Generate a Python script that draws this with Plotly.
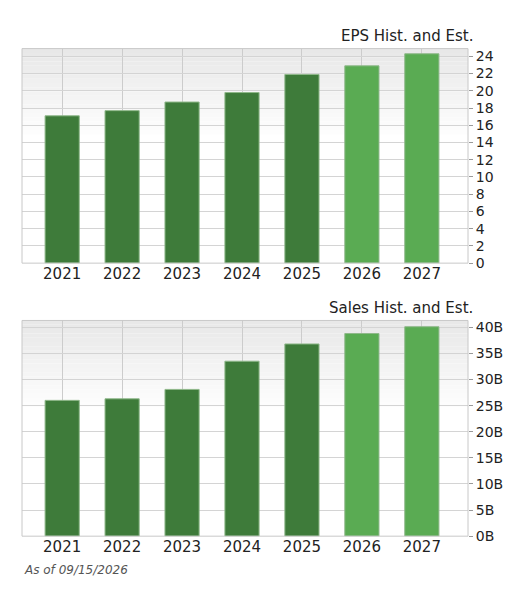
import plotly.graph_objects as go

years = ["2021", "2022", "2023", "2024", "2025", "2026", "2027"]
eps = [17.1, 17.7, 18.7, 19.8, 21.9, 22.9, 24.3]
sales = [26.0, 26.3, 28.1, 33.5, 36.8, 38.8, 40.1]  # billions
estimate = [False, False, False, False, False, True, True]

dark, light = "#3e7b3a", "#5aab53"
colors = [light if e else dark for e in estimate]

fig = go.Figure()
fig.add_trace(go.Bar(x=years, y=eps, marker=dict(color=colors, line=dict(color="#8fb88a", width=1)),
                     width=0.57, xaxis="x", yaxis="y", hoverinfo="y"))
fig.add_trace(go.Bar(x=years, y=sales, marker=dict(color=colors, line=dict(color="#8fb88a", width=1)),
                     width=0.57, xaxis="x2", yaxis="y2", hoverinfo="y"))

shapes = []
# gray-to-white gradient at the top of each plot
for dom in [(0.57, 0.933), (0.108, 0.473)]:
    h = dom[1] - dom[0]
    n = 20
    for i in range(n):
        g = int(232 + (255 - 232) * i / n)
        shapes.append(dict(type="rect", xref="paper", yref="paper", layer="below",
                           x0=0, x1=1, y0=dom[1] - h * 0.4 * (i + 1) / n, y1=dom[1] - h * 0.4 * i / n,
                           fillcolor=f"rgb({g},{g},{g})", line_width=0))
    shapes.append(dict(type="rect", xref="paper", yref="paper", x0=0, x1=1, y0=dom[0], y1=dom[1],
                       line=dict(color="#c8c8c8", width=1)))

xa = dict(range=[-0.67, 6.77], showgrid=True, gridcolor="#cccccc", ticks="", showline=False,
          tickfont=dict(size=15, color="#222"), fixedrange=True)
ya = dict(side="right", showgrid=True, gridcolor="#d4d4d4", zeroline=False, ticks="outside",
          ticklen=4, tickcolor="#999", tickfont=dict(size=14, color="#222"))

fig.update_layout(
    width=520, height=600, margin=dict(l=14, r=60, t=0, b=0),
    paper_bgcolor="white", plot_bgcolor="rgba(0,0,0,0)",
    font=dict(family="DejaVu Sans, Arial", color="#222"),
    showlegend=False, bargap=0.43, shapes=shapes,
    xaxis=dict(xa, domain=[0, 1], anchor="y"),
    yaxis=dict(ya, domain=[0.57, 0.933], range=[0, 24.9], dtick=2, anchor="x"),
    xaxis2=dict(xa, domain=[0, 1], anchor="y2"),
    yaxis2=dict(ya, domain=[0.108, 0.473], range=[0, 41.3], dtick=5, ticksuffix="B", anchor="x2"),
    annotations=[
        dict(text="EPS Hist. and Est.", xref="paper", yref="paper", x=1.015, y=0.935,
             xanchor="right", yanchor="bottom", showarrow=False, font=dict(size=15)),
        dict(text="Sales Hist. and Est.", xref="paper", yref="paper", x=1.015, y=0.475,
             xanchor="right", yanchor="bottom", showarrow=False, font=dict(size=15)),
        dict(text="<i>As of 09/15/2026</i>", xref="paper", yref="paper", x=0, y=0.05,
             xanchor="left", yanchor="middle", showarrow=False, font=dict(size=12, color="#555")),
    ],
)

fig.write_html("out.html")
